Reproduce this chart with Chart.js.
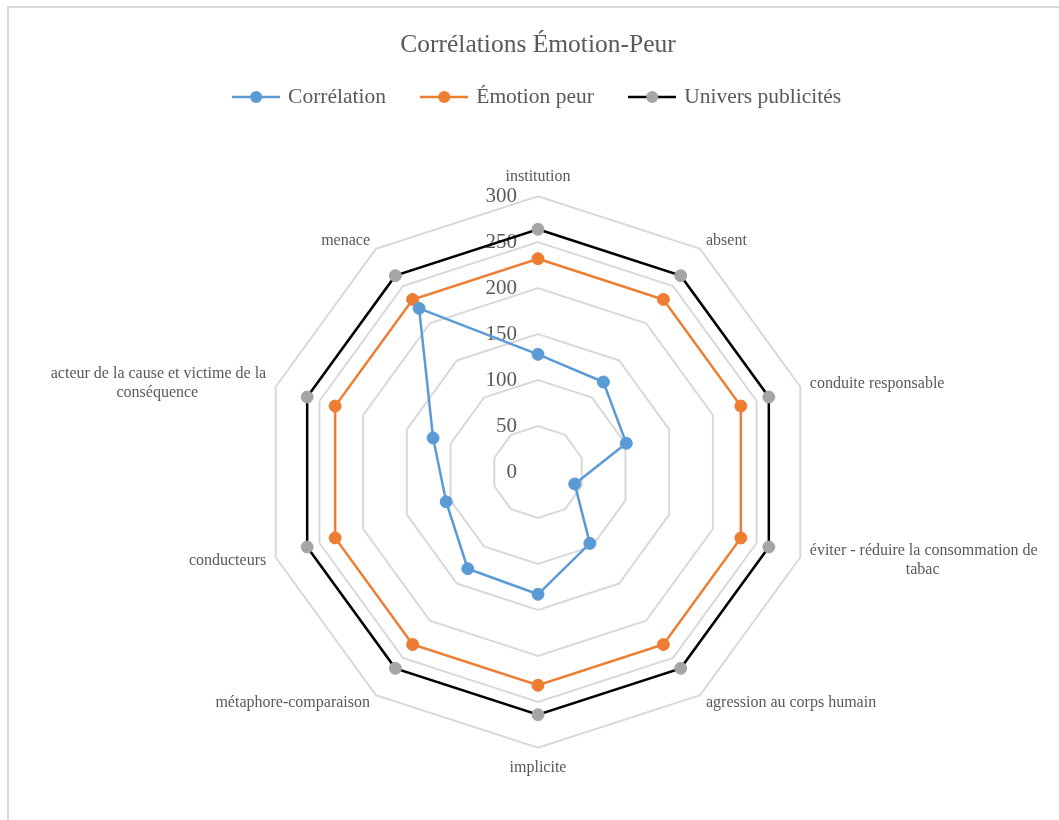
<!DOCTYPE html>
<html lang="fr">
<head>
<meta charset="utf-8">
<title>Corrélations Émotion-Peur</title>
<script src="https://cdn.jsdelivr.net/npm/chart.js@4.4.1/dist/chart.umd.min.js"></script>
<style>
  html, body { margin: 0; background: #fff; overflow: hidden; }
  #frame { position: absolute; left: 7px; top: 6px; width: 1100px; height: 900px; border: 2px solid #d9d9d9; box-sizing: border-box; }
  #radar { position: absolute; left: 0; top: 0; }
</style>
</head>
<body>
<div id="frame"></div>
<canvas id="radar" width="1059" height="820"></canvas>
<script>
const categories = [
  "institution",
  "absent",
  "conduite responsable",
  ["éviter - réduire la consommation de", "tabac"],
  "agression au corps humain",
  "implicite",
  "métaphore-comparaison",
  "conducteurs",
  ["acteur de la cause et victime de la", "conséquence"],
  "menace",
];
const correlation = [128, 121, 101, 42, 96, 133, 130, 105, 120, 220];
const emotionPeur = [232, 232, 232, 232, 232, 232, 232, 232, 232, 232];
const universPub = [264, 264, 264, 264, 264, 264, 264, 264, 264, 264];
const scaleTicks = [0, 50, 100, 150, 200, 250, 300];

const FONT = "'Liberation Serif', 'Times New Roman', serif";
const TEXT = "#595959";
Chart.defaults.font.family = FONT;
Chart.defaults.color = TEXT;

const measure = document.createElement("canvas").getContext("2d");

// pad the shorter line of a wrapped label so both lines sit centred
function centred(lines, side) {
  measure.font = "16px " + FONT;
  const space = measure.measureText(" ").width;
  const widest = Math.max(...lines.map((l) => measure.measureText(l).width));
  return lines.map((l) => {
    const n = Math.round((widest - measure.measureText(l).width) / 2 / space);
    return side === "right" ? " ".repeat(n) + l : l + " ".repeat(n);
  });
}
const labels = categories.map((c, i) => (Array.isArray(c) ? centred(c, i < 5 ? "right" : "left") : c));

// legend icon: short line with a marker in the middle
function legendIcon(lineColor, dotColor) {
  const c = document.createElement("canvas");
  c.width = 48;
  c.height = 14;
  const g = c.getContext("2d");
  g.strokeStyle = lineColor;
  g.lineWidth = 2.5;
  g.beginPath();
  g.moveTo(0, 7);
  g.lineTo(48, 7);
  g.stroke();
  g.fillStyle = dotColor;
  g.beginPath();
  g.arc(24, 7, 6, 0, Math.PI * 2);
  g.fill();
  return c;
}
const icons = [
  legendIcon("#5b9bd5", "#5b9bd5"),
  legendIcon("#ed7d31", "#ed7d31"),
  legendIcon("#000000", "#a5a5a5"),
];

// side labels are centred vertically on their anchor point
const centreSideLabels = {
  id: "centreSideLabels",
  afterLayout(chart) {
    const scale = chart.scales.r;
    (scale._pointLabelItems || []).forEach((item, i) => {
      const deg = Math.round((scale.getIndexAngle(i) * 180) / Math.PI) % 360;
      if (deg % 90 === 0) return;
      const h = item.bottom - item.top;
      const shift = deg < 90 || deg > 270 ? h / 2 : -h / 2;
      item.y += shift;
      item.top += shift;
      item.bottom += shift;
    });
  },
};

function series(label, data, line, dot) {
  return {
    label,
    data,
    borderColor: line,
    backgroundColor: dot,
    pointBackgroundColor: dot,
    pointBorderColor: dot,
    borderWidth: 2.5,
    pointRadius: 6,
    pointHoverRadius: 6,
    pointBorderWidth: 1,
    fill: false,
    tension: 0,
  };
}

new Chart(document.getElementById("radar"), {
  type: "radar",
  data: {
    labels,
    datasets: [
      series("Corrélation", correlation, "#5b9bd5", "#5b9bd5"),
      series("Émotion peur", emotionPeur, "#ed7d31", "#ed7d31"),
      series("Univers publicités", universPub, "#000000", "#a5a5a5"),
    ],
  },
  options: {
    responsive: false,
    animation: false,
    layout: { padding: { left: 20, right: 3, top: 0, bottom: 42 } },
    plugins: {
      title: {
        display: true,
        text: "Corrélations Émotion-Peur",
        color: TEXT,
        font: { size: 25.5, weight: "normal" },
        padding: { top: 30, bottom: -11.35 },
      },
      legend: {
        weight: 1800,
        labels: {
          color: TEXT,
          font: { size: 21.5 },
          usePointStyle: true,
          pointStyleWidth: 42.5,
          padding: 37,
          generateLabels(chart) {
            const items = Chart.defaults.plugins.legend.labels.generateLabels(chart);
            items.forEach((item, i) => (item.pointStyle = icons[i]));
            return items;
          },
        },
      },
      // empty spacer between legend and plot
      subtitle: { display: true, text: "", font: { size: 10 }, padding: { top: 37.25, bottom: 0 } },
      tooltip: { enabled: false },
    },
    scales: {
      r: {
        // a hair below zero so the centre value gets its label
        min: -0.0001,
        max: scaleTicks[scaleTicks.length - 1],
        afterBuildTicks(scale) {
          scale.ticks = scaleTicks.map((value) => ({ value }));
        },
        angleLines: { display: false },
        grid: {
          color: "#d9d9d9",
          lineWidth: (ctx) => (ctx.tick && ctx.tick.value > 0 ? 2 : 0),
        },
        pointLabels: { color: TEXT, font: { size: 16 }, padding: -2.5 },
        ticks: {
          color: TEXT,
          font: { size: 21 },
          showLabelBackdrop: false,
          // right-align the values just left of the vertical axis
          callback(value) {
            measure.font = "21px " + FONT;
            const s = String(value);
            const n = Math.round((43 + measure.measureText(s).width) / measure.measureText(" ").width);
            return s + " ".repeat(n);
          },
        },
      },
    },
  },
  plugins: [centreSideLabels],
});
</script>
</body>
</html>
